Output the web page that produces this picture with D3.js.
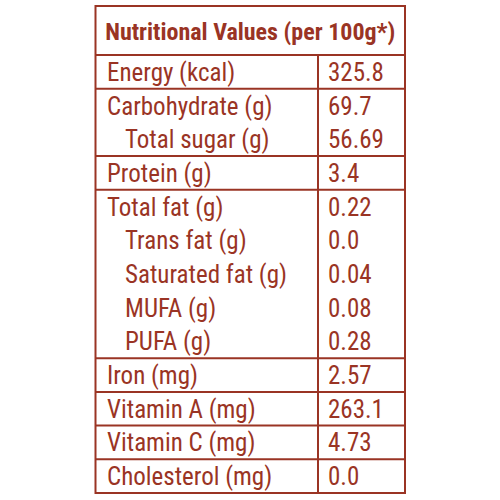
<!DOCTYPE html>
<html><head><meta charset="utf-8">
<script src="https://cdn.jsdelivr.net/npm/d3@7"></script>
<style>body{margin:0;background:#fff}</style></head>
<body><script>
var title = "Nutritional Values (per 100g*)";
var labels = ["Energy (kcal)", "Carbohydrate (g)", "Total sugar (g)", "Protein (g)", "Total fat (g)",
  "Trans fat (g)", "Saturated fat (g)", "MUFA (g)", "PUFA (g)", "Iron (mg)", "Vitamin A (mg)",
  "Vitamin C (mg)", "Cholesterol (mg)"];
var values = ["325.8", "69.7", "56.69", "3.4", "0.22", "0.0", "0.04", "0.08", "0.28", "2.57", "263.1", "4.73", "0.0"];
var indent = [0, 0, 1, 0, 0, 1, 1, 1, 1, 0, 0, 0, 0];

var col = "#9a3424";
var boxLeft = 95.5, boxRight = 405, boxTop = 6, titleBottom = 55, boxBottom = 493, divX = 318;
var font = "'Liberation Sans Narrow', 'Roboto Condensed', 'Liberation Sans', sans-serif";

var svg = d3.select("body").append("svg").attr("width", 500).attr("height", 500);
var y = d3.scaleBand().domain(d3.range(labels.length)).range([titleBottom, boxBottom]);

svg.append("rect").attr("x", boxLeft).attr("y", boxTop).attr("width", boxRight - boxLeft).attr("height", boxBottom - boxTop)
  .attr("fill", "none").attr("stroke", col).attr("stroke-width", 2);
svg.append("line").attr("x1", boxLeft).attr("x2", boxRight).attr("y1", titleBottom).attr("y2", titleBottom)
  .attr("stroke", col).attr("stroke-width", 2);
svg.append("line").attr("x1", divX).attr("x2", divX).attr("y1", titleBottom).attr("y2", boxBottom)
  .attr("stroke", col).attr("stroke-width", 2);

// group separators: before each non-indented row (except the first)
svg.selectAll(".sep").data(d3.range(1, labels.length).filter(function (i) { return !indent[i]; }))
  .enter().append("line")
  .attr("x1", boxLeft).attr("x2", boxRight)
  .attr("y1", function (i) { return y(i); }).attr("y2", function (i) { return y(i); })
  .attr("stroke", col).attr("stroke-width", 2);

svg.append("text").attr("x", (boxLeft + boxRight) / 2).attr("y", 40).attr("text-anchor", "middle")
  .attr("fill", col).style("font", "bold 24px " + font).text(title);

svg.selectAll(".lab").data(labels).enter().append("text")
  .attr("x", function (d, i) { return indent[i] ? 125 : 107; })
  .attr("y", function (d, i) { return y(i) + y.bandwidth() / 2 + 9; })
  .attr("fill", col).style("font", "25px " + font).text(function (d) { return d; });

svg.selectAll(".val").data(values).enter().append("text")
  .attr("x", 328)
  .attr("y", function (d, i) { return y(i) + y.bandwidth() / 2 + 9; })
  .attr("fill", col).style("font", "25px " + font).text(function (d) { return d; });
</script></body></html>
